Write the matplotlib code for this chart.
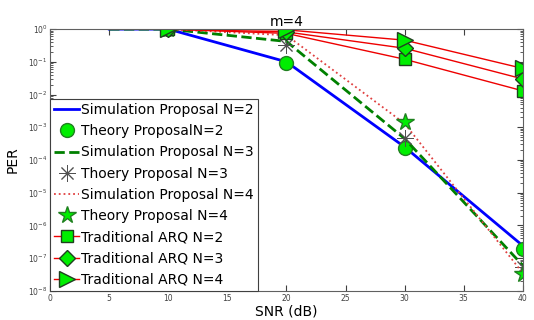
import numpy as np
import matplotlib.pyplot as plt

# SNR points (dB)
snr_sim = [5, 10, 20, 30, 40]
snr = [10, 20, 30, 40]

# simulation curves of the proposal
sim_n2 = [1.0, 1.0, 0.1, 2.5e-4, 2.4e-7]
sim_n3 = [1.0, 1.0, 0.42, 4.5e-4, 6.0e-8]
sim_n4 = [1.0, 1.0, 0.65, 1.3e-3, 3.5e-8]

# theory points of the proposal
th_n2 = [1.0, 0.095, 2.4e-4, 1.9e-7]
th_n3 = [1.0, 0.32, 4.6e-4, 5.5e-8]
th_n4 = [1.0, 0.85, 1.5e-3, 3.2e-8]

# traditional ARQ
arq_n2 = [1.0, 0.74, 0.12, 0.013]
arq_n3 = [1.0, 0.82, 0.26, 0.03]
arq_n4 = [1.0, 0.95, 0.46, 0.063]

lime = '#00ee00'

fig = plt.figure(figsize=(5.34, 3.2), dpi=100)
ax = fig.add_axes([0.094, 0.091, 0.885, 0.818])

ax.semilogy(snr_sim, sim_n2, color='#0000ff', lw=2, label='Simulation Proposal N=2')
ax.semilogy(snr, th_n2, 'o', color=lime, mec='#208020', ms=10, label='Theory ProposalN=2')
ax.semilogy(snr_sim, sim_n3, '--', color='#008000', lw=2, label='Simulation Proposal N=3')
ax.semilogy(snr, th_n3, ls='none', marker=(8, 2, 0), color='#505050', ms=12, mew=0.7,
            label='Thoery Proposal N=3')
ax.semilogy(snr_sim, sim_n4, ':', color='#e04040', lw=1.3, label='Simulation Proposal N=4')
ax.semilogy(snr, th_n4, '*', color=lime, mec='#208020', ms=13, label='Theory Proposal N=4')
ax.semilogy(snr, arq_n2, '-s', color='#ee0000', lw=1, mfc=lime, mec='#204020', ms=8,
            label='Traditional ARQ N=2')
ax.semilogy(snr, arq_n3, '-D', color='#ee0000', lw=1, mfc=lime, mec='#204020', ms=8,
            label='Traditional ARQ N=3')
ax.semilogy(snr, arq_n4, '->', color='#ee0000', lw=1, mfc=lime, mec='#204020', ms=11,
            label='Traditional ARQ N=4')

ax.set_xlim(0, 40)
ax.set_ylim(1e-8, 1)
ax.set_xticks([0, 5, 10, 15, 20, 25, 30, 35, 40])
ax.tick_params(which='both', direction='in', top=True, right=True, labelsize=5.5,
               colors='#404040', labelcolor='#404040', pad=2)
ax.tick_params(which='major', length=4)
ax.tick_params(which='minor', length=2)
for s in ax.spines.values():
    s.set_color('#606060')

ax.set_xlabel('SNR (dB)', fontsize=10, labelpad=1)
ax.set_ylabel('PER', fontsize=10, labelpad=6)
ax.set_title('m=4', fontsize=10, pad=2)

leg = ax.legend(loc='lower left', fontsize=10, borderaxespad=0, handlelength=1.8,
                handletextpad=0.15, labelspacing=0.52, borderpad=0.3, fancybox=False,
                edgecolor='#404040', framealpha=1)
leg.get_frame().set_linewidth(0.8)

fig.savefig('out.png', dpi=100)
